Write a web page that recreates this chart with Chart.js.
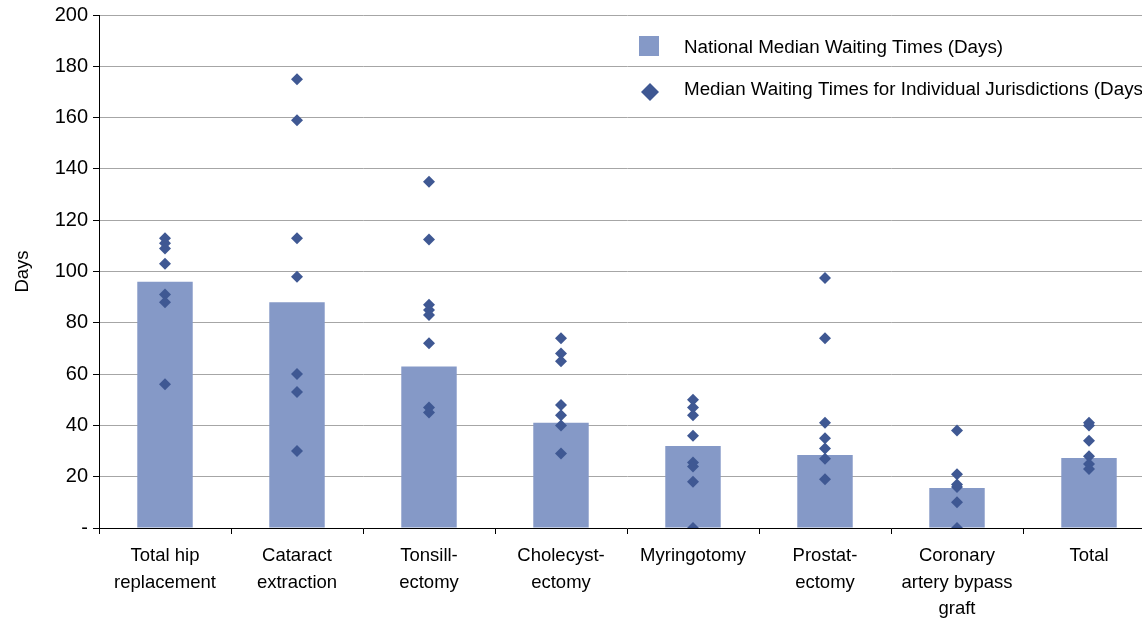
<!DOCTYPE html>
<html>
<head>
<meta charset="utf-8">
<script src="https://cdn.jsdelivr.net/npm/chart.js@4.4.1/dist/chart.umd.min.js"></script>
<style>
  html, body { margin: 0; padding: 0; background: #ffffff; overflow: hidden; }
  #wrap { width: 1142px; height: 620px; position: relative; overflow: hidden; }
  #c { position: absolute; left: 0; top: 0; }
</style>
</head>
<body>
<div id="wrap"><canvas id="c" width="1161" height="620"></canvas></div>
<script>
const categories = [
  'Total hip\nreplacement',
  'Cataract\nextraction',
  'Tonsill-\nectomy',
  'Cholecyst-\nectomy',
  'Myringotomy',
  'Prostat-\nectomy',
  'Coronary\nartery bypass\ngraft',
  'Total'
];
const nationalMedian = [96, 88, 63, 41, 32, 28.5, 15.6, 27.3];

const hipJur = [113, 111, 109, 103, 91, 88, 56];
const cataractJur = [175, 159, 113, 98, 60, 53, 30];
const tonsilJur = [135, 112.5, 87, 85, 83, 72, 47, 45];
const cholecystJur = [74, 68, 65, 48, 44, 40, 29];
const myringJur = [50, 47, 44, 36, 25.5, 24, 18, 0];
const prostatJur = [97.5, 74, 41, 35, 31, 27, 19];
const coronaryJur = [38, 21, 17, 16, 10, 0];
const totalJur = [41, 40, 34, 28, 25, 23];

const yTicks = [0, 20, 40, 60, 80, 100, 120, 140, 160, 180, 200];

const legendLabels = ['National Median Waiting Times (Days)', 'Median Waiting Times for Individual Jurisdictions (Days)'];

const jurisdictionSets = [hipJur, cataractJur, tonsilJur, cholecystJur, myringJur, prostatJur, coronaryJur, totalJur];
const scatterPoints = [];
jurisdictionSets.forEach((arr, i) => arr.forEach(v => scatterPoints.push({ x: categories[i], y: v })));

const BAR_COLOR = '#8599C7';
const PT_COLOR = '#3F5893';
const FONT = "'Liberation Sans', Arial, sans-serif";

const legendPlugin = {
  id: 'customLegend',
  afterDatasetsDraw(chart) {
    const ctx = chart.ctx;
    ctx.save();
    ctx.font = '18.8px ' + FONT;
    ctx.textBaseline = 'middle';
    ctx.fillStyle = BAR_COLOR;
    ctx.fillRect(639, 36, 20, 20);
    ctx.fillStyle = '#000';
    ctx.fillText(legendLabels[0], 684, 48);
    ctx.fillStyle = PT_COLOR;
    ctx.beginPath();
    const cx = 650, cy = 92, r = 9;
    ctx.moveTo(cx, cy - r); ctx.lineTo(cx + r, cy); ctx.lineTo(cx, cy + r); ctx.lineTo(cx - r, cy); ctx.closePath();
    ctx.fill();
    ctx.fillStyle = '#000';
    ctx.fillText(legendLabels[1], 684, 90);
    ctx.restore();
  }
};

new Chart(document.getElementById('c'), {
  type: 'bar',
  data: {
    labels: categories,
    datasets: [
      {
        type: 'bar',
        label: legendLabels[0],
        data: nationalMedian,
        backgroundColor: BAR_COLOR,
        borderWidth: 0,
        categoryPercentage: 1.0,
        barPercentage: 0.42,
        order: 2
      },
      {
        type: 'line',
        label: legendLabels[1],
        data: scatterPoints,
        showLine: false,
        pointStyle: 'rectRot',
        pointRadius: 6,
        pointHoverRadius: 6,
        pointBackgroundColor: PT_COLOR,
        pointBorderColor: PT_COLOR,
        pointBorderWidth: 0,
        order: 1
      }
    ]
  },
  options: {
    responsive: false,
    animation: false,
    devicePixelRatio: 1,
    layout: { padding: { top: 15, left: 0, right: 0, bottom: 0 } },
    plugins: {
      legend: { display: false },
      tooltip: { enabled: false }
    },
    scales: {
      x: {
        type: 'category',
        offset: true,
        grid: {
          offset: true,
          drawOnChartArea: false,
          drawTicks: true,
          tickLength: 6,
          tickColor: '#000',
          color: '#000'
        },
        border: { display: true, color: '#000', width: 1 },
        ticks: {
          color: '#000',
          font: { family: FONT, size: 18.5, lineHeight: 1.43 },
          padding: 9,
          maxRotation: 0,
          autoSkip: false,
          callback(v) { return this.getLabelForValue(v).split('\n'); }
        },
        afterFit(s) { s.height = 92; s.paddingLeft = 0; s.paddingRight = 0; }
      },
      y: {
        min: 0,
        max: 200,
        afterBuildTicks(s) { s.ticks = yTicks.map(v => ({ value: v })); },
        grid: {
          color: '#A6A6A6',
          lineWidth: 1,
          drawTicks: true,
          tickLength: 6,
          tickColor: '#000'
        },
        border: { display: true, color: '#000', width: 1 },
        ticks: {
          color: '#000',
          font: { family: FONT, size: 20 },
          padding: 5,
          callback: (v) => v === 0 ? '-' : String(v)
        },
        title: {
          display: true,
          text: 'Days',
          color: '#000',
          font: { family: FONT, size: 18.5 },
          padding: { top: 12, bottom: 0 }
        },
        afterFit(s) { s.width = 99; s.paddingTop = 0; s.paddingBottom = 0; }
      }
    }
  },
  plugins: [legendPlugin]
});
</script>
</body>
</html>
